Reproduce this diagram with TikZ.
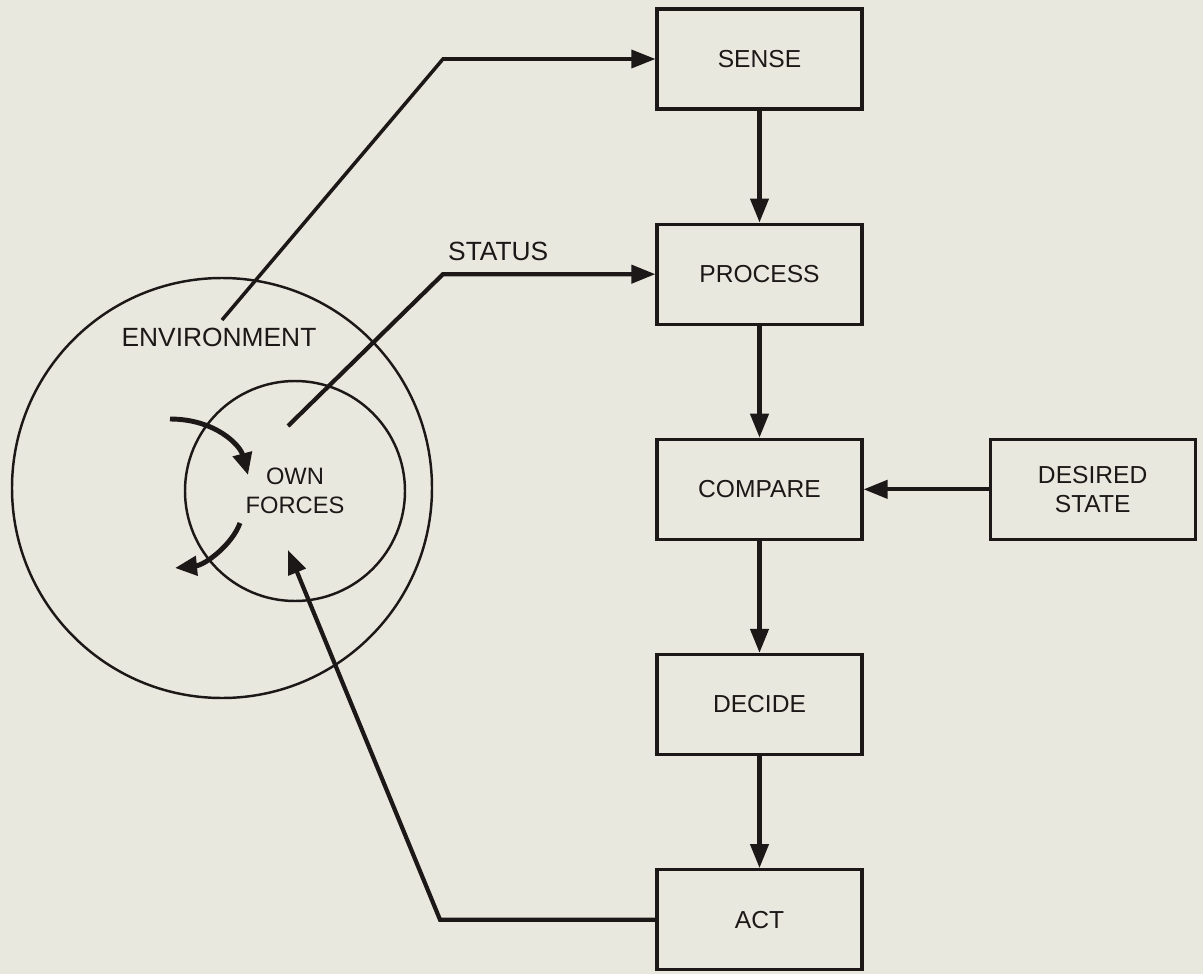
\documentclass[tikz,border=0pt]{standalone}
\usepackage{fontspec}
\setmainfont{Liberation Sans}
\usetikzlibrary{arrows.meta,positioning}
\definecolor{paper}{RGB}{232,232,222}
\definecolor{ink}{RGB}{28,24,24}
\tikzset{
  block/.style={draw=ink, line width=1.8pt, minimum width=4.1cm, minimum height=2cm, align=center, text=ink, font=\fontsize{14}{16.5}\selectfont},
  flow/.style={-{Triangle[length=0.48cm,width=0.36cm]}, line width=2.4pt, draw=ink},
  ring/.style={draw=ink, line width=1.4pt, circle, inner sep=0pt},
  swirl/.style={-{Triangle[length=0.44cm,width=0.38cm]}, line width=2.8pt, draw=ink},
  tag/.style={text=ink, align=center, font=\fontsize{15}{17.5}\selectfont}
}

\begin{document}
\begin{tikzpicture}[node distance=2.24cm]
  \useasboundingbox[fill=paper] (0,0) rectangle (24.06,-19.48);
  \node[ring, minimum size=8.4cm] (env) at (4.44,-9.76) {};
  \node[ring, tag, font=\fontsize{13.5}{16.5}\selectfont, minimum size=4.4cm] (own) at (5.9,-9.82) {OWN\\FORCES};
  \node[tag] (envlabel) at (4.38,-6.74) {ENVIRONMENT};

  \node[block] (sense) at (15.19,-1.18) {SENSE};
  \node[block, below=of sense] (process) {PROCESS};
  \node[block, below=of process] (compare) {COMPARE};
  \node[block, below=of compare] (decide) {DECIDE};
  \node[block, below=of decide] (act) {ACT};
  \node[block, right=2.5cm of compare] (desired) {DESIRED\\STATE};

  \foreach \a/\b in {sense/process, process/compare, compare/decide, decide/act}
    \draw[flow] (\a) -- (\b);
  \draw[flow] (desired) -- (compare);

  \coordinate (bendx) at (8.86,0);
  \coordinate (envfoot) at (4.44,-6.4);
  \draw[flow, line width=2pt] (envfoot) -- (sense.west -| bendx) -- (sense.west);

  \coordinate (statfoot) at (5.76,-8.52);
  \draw[flow] (statfoot) -- (process.west -| bendx) -- node[tag, above=3pt, pos=0.26] (status) {STATUS} (process.west);

  \coordinate (actbend) at (8.8,-18.34);
  \coordinate (acttip) at (5.76,-11.0);
  \draw[flow] (act.west) -- (act.west -| actbend) -- (acttip);

  \draw[swirl] (3.4,-8.38) .. controls (4.3,-8.38) and (4.8,-8.9) .. (4.96,-9.5);
  \draw[swirl] (4.8,-10.46) .. controls (4.64,-10.9) and (4.1,-11.3) .. (3.5,-11.36);
\end{tikzpicture}
\end{document}
